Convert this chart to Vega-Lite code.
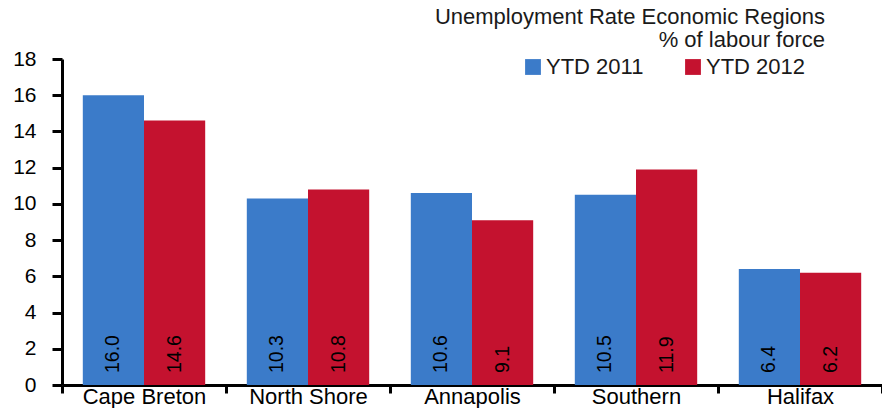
{
  "$schema": "https://vega.github.io/schema/vega-lite/v6.json",
  "width": 820,
  "height": 326,
  "autosize": {"type": "none"},
  "padding": {"left": 62, "top": 59, "right": 0, "bottom": 23},
  "background": "white",
  "config": {
    "view": {"stroke": null},
    "font": "Liberation Sans",
    "axisY": {
      "tickCount": 9,
      "grid": false,
      "labelOverlap": false,
      "labelFlush": false,
      "domainColor": "black",
      "domainWidth": 3,
      "tickColor": "black",
      "tickWidth": 3,
      "tickSize": 10,
      "labelPadding": 16,
      "labelFontSize": 21,
      "labelColor": "black",
      "title": null
    }
  },
  "title": {
    "text": ["Unemployment Rate Economic Regions", "% of labour force"],
    "anchor": "end",
    "frame": "group",
    "orient": "top",
    "fontSize": 22,
    "fontWeight": "normal",
    "color": "#1a1a1a",
    "lineHeight": 23,
    "offset": -4,
    "dx": -57
  },
  "data": {
    "values": [
      {"region": "Cape Breton", "year": "YTD 2011", "value": 16.0},
      {"region": "Cape Breton", "year": "YTD 2012", "value": 14.6},
      {"region": "North Shore", "year": "YTD 2011", "value": 10.3},
      {"region": "North Shore", "year": "YTD 2012", "value": 10.8},
      {"region": "Annapolis", "year": "YTD 2011", "value": 10.6},
      {"region": "Annapolis", "year": "YTD 2012", "value": 9.1},
      {"region": "Southern", "year": "YTD 2011", "value": 10.5},
      {"region": "Southern", "year": "YTD 2012", "value": 11.9},
      {"region": "Halifax", "year": "YTD 2011", "value": 6.4},
      {"region": "Halifax", "year": "YTD 2012", "value": 6.2}
    ]
  },
  "encoding": {
    "x": {
      "field": "region",
      "type": "nominal",
      "sort": ["Cape Breton", "North Shore", "Annapolis", "Southern", "Halifax"],
      "scale": {"paddingInner": 0, "paddingOuter": 0},
      "axis": {
        "title": null,
        "labelAngle": 0,
        "tickBand": "extent",
        "domainColor": "black",
        "domainWidth": 3,
        "tickColor": "black",
        "tickWidth": 3,
        "tickSize": 8,
        "labelPadding": -7,
        "labelFontSize": 22,
        "labelColor": "black",
        "labelBaseline": "top"
      }
    },
    "xOffset": {
      "field": "year",
      "type": "nominal",
      "scale": {"paddingInner": 0, "paddingOuter": 0.34}
    }
  },
  "layer": [
    {
      "mark": {"type": "bar"},
      "encoding": {
        "y": {
          "field": "value",
          "type": "quantitative",
          "scale": {"domain": [0, 18], "nice": false}
        },
        "color": {
          "field": "year",
          "type": "nominal",
          "scale": {"domain": ["YTD 2011", "YTD 2012"], "range": ["#3b7bc9", "#c4122f"]},
          "legend": {
            "title": null,
            "orient": "none",
            "direction": "horizontal",
            "legendX": 460,
            "legendY": -3,
            "symbolType": "square",
            "symbolSize": 250,
            "symbolStrokeWidth": 0,
            "labelFontSize": 22,
            "labelColor": "#1a1a1a",
            "labelOffset": 2,
            "columnPadding": 38
          }
        }
      }
    },
    {
      "mark": {"type": "text", "angle": 270, "align": "left", "baseline": "middle", "dx": 12, "fontSize": 19.5, "color": "black"},
      "encoding": {
        "y": {"datum": 0, "type": "quantitative"},
        "text": {"field": "value", "type": "quantitative", "format": ".1f"}
      }
    }
  ]
}
